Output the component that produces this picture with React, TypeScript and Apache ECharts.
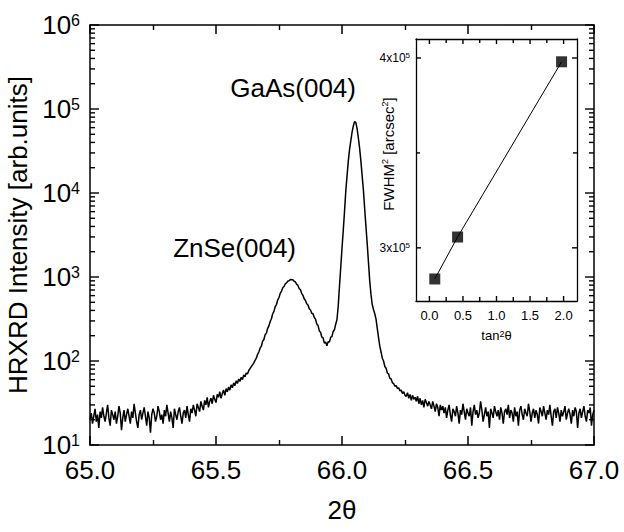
import React, { useEffect, useRef } from "react";
import * as echarts from "echarts";

const FONT = '"Liberation Sans", Arial, Helvetica, sans-serif';

// Main scan: 2θ sampled from X_START in steps of X_STEP
const X_START = 65.0;
const X_STEP = 0.005;

// 65.000 – 65.395
const BG_LEFT = [
  20, 24, 18, 22, 27, 19, 23, 16, 25, 21,
  28, 22, 19, 24, 30, 21, 17, 26, 23, 20,
  25, 18, 22, 29, 24, 15, 21, 26, 19, 23,
  27, 22, 18, 25, 21, 31, 24, 19, 16, 23,
  26, 20, 24, 28, 22, 17, 25, 21, 14, 23,
  27, 24, 19, 22, 29, 25, 20, 23, 18, 26,
  22, 30, 24, 19, 25, 21, 16, 27, 23, 20,
  25, 28, 22, 18, 24, 26, 21, 29, 23, 19,
];
// 65.400 – 65.645
const RISE = [
  27, 24, 30, 26, 22, 31, 28, 25, 33, 29,
  26, 34, 30, 37, 28, 33, 36, 31, 39, 35,
  32, 40, 37, 43, 36, 41, 45, 39, 47, 43,
  49, 45, 52, 48, 55, 51, 58, 54, 61, 57,
  64, 60, 68, 65, 72, 70, 77, 81, 86, 90,
];
// 65.650 – 66.250 (ZnSe and GaAs peaks)
const PEAKS = [
  95, 102, 108, 120, 128, 142, 150, 172, 180, 205,
  215, 245, 262, 295, 318, 365, 390, 445, 470, 535,
  570, 640, 680, 745, 770, 830, 850, 895, 900, 935,
  930, 925, 890, 875, 820, 795, 730, 705, 640, 605,
  550, 525, 480, 465, 420, 405, 370, 365, 330, 315,
  275, 265, 228, 220, 192, 188, 163, 168, 152, 170,
  168, 192, 195, 225, 235, 275, 310, 450, 780, 1300,
  2200, 3600, 6000, 10500, 16000, 24000, 33000, 42000, 53000, 63000,
  71000, 69000, 58000, 45000, 34000, 24000, 16000, 10800, 6500, 4000,
  2500, 1500, 900, 620, 470, 410, 365, 315, 245, 190,
  150, 128, 108, 100, 86, 82, 72, 70, 62, 61,
  55, 54, 50, 51, 47, 48, 44, 45, 41, 43,
  39,
];
// 66.255 – 67.000
const BG_RIGHT = [
  38, 42, 36, 40, 34, 39, 35, 37, 33, 38,
  31, 36, 30, 34, 28, 35, 32, 29, 33, 30,
  27, 33, 29, 25, 31, 28, 22, 30, 26, 29,
  24, 28, 21, 26, 30, 23, 19, 27, 25, 22,
  29, 24, 18, 26, 23, 31, 25, 20, 27, 24,
  22, 28, 17, 25, 30, 23, 26, 21, 24, 33,
  26, 19, 23, 28, 22, 25, 16, 27, 24, 21,
  29, 25, 22, 26, 20, 28, 24, 18, 25, 27,
  23, 30, 21, 26, 24, 19, 28, 22, 25, 17,
  26, 29, 23, 20, 27, 24, 22, 31, 25, 19,
  24, 27, 21, 26, 23, 18, 28, 25, 22, 29,
  24, 20, 26, 23, 30, 22, 17, 25, 27, 21,
  28, 24, 19, 26, 22, 25, 29, 20, 24, 27,
  23, 18, 26, 22, 28, 25, 16, 24, 27, 21,
  25, 29, 22, 19, 26, 24, 28, 17, 23, 26,
];
const INTENSITY = [...BG_LEFT, ...RISE, ...PEAKS, ...BG_RIGHT];

const X_TICKS = [65.0, 65.5, 66.0, 66.5, 67.0];
const Y_DECADES = [10, 100, 1000, 10000, 100000, 1000000];

// Inset
const TAN2 = [0.08, 0.42, 1.97];
const FWHM2 = [283600, 305700, 398000];
const INSET_X_RANGE = [-0.2, 2.2];
const INSET_Y_RANGE = [272000, 410000];
const INSET_X_LABELS = [0, 0.5, 1.0, 1.5, 2.0];
const INSET_X_TICKS = [0, 0.25, 0.5, 0.75, 1.0, 1.25, 1.5, 1.75, 2.0];
const INSET_Y_LABELS = [300000, 400000];
const INSET_Y_TICKS = [300000, 350000, 400000];

const ANNOTATIONS = [
  { text: "GaAs(004)", x: 356, y: 88 },
  { text: "ZnSe(004)", x: 296, y: 248 },
];

const black = "#000";
const txt = { color: black, fontFamily: FONT };

function buildOption() {
  const mainData = INTENSITY.map((v, i) => [+(X_START + i * X_STEP).toFixed(3), v]);
  const insetData = TAN2.map((x, i) => [x, FWHM2[i]]);
  const axisLine = { show: true, onZero: false, lineStyle: { color: black, width: 1.5 } };
  const xMin = X_TICKS[0];
  const xMax = X_TICKS[X_TICKS.length - 1];

  // log-axis ticks: [value, length] — decades long, 2..9 × decade short
  const yTicks: number[][] = [];
  Y_DECADES.forEach((d, i) => {
    yTicks.push([d, 9]);
    if (i < Y_DECADES.length - 1) for (let k = 2; k <= 9; k++) yTicks.push([d * k, 5]);
  });

  const mainX = (pos: "bottom" | "top", labels: boolean) => ({
    gridIndex: 0,
    type: "value",
    min: xMin,
    max: xMax,
    interval: 0.5,
    position: pos,
    axisLine,
    axisTick: { show: true, inside: true, length: 9, lineStyle: { color: black, width: 1.5 } },
    minorTick: { show: true, splitNumber: 2, length: 5, lineStyle: { color: black, width: 1.4 } },
    splitLine: { show: false },
    minorSplitLine: { show: false },
    axisLabel: labels
      ? { show: true, fontSize: 26, margin: 12, ...txt, formatter: (v: number) => v.toFixed(1) }
      : { show: false },
    ...(labels
      ? { name: "2θ", nameLocation: "middle", nameGap: 52, nameTextStyle: { fontSize: 26, ...txt } }
      : {}),
  });

  const mainY = (pos: "left" | "right", labels: boolean) => ({
    gridIndex: 0,
    type: "log",
    logBase: 10,
    min: Y_DECADES[0],
    max: Y_DECADES[Y_DECADES.length - 1],
    splitNumber: 5,
    position: pos,
    axisLine,
    axisTick: { show: false },
    splitLine: { show: false },
    minorTick: { show: false },
    axisLabel: labels
      ? {
          show: true,
          margin: 10,
          formatter: (v: number) => `{b|10}{s|${Math.round(Math.log10(v))}}`,
          rich: {
            b: { fontSize: 26, ...txt },
            s: { fontSize: 16, verticalAlign: "top", ...txt },
          },
        }
      : { show: false },
    ...(labels
      ? {
          name: "HRXRD Intensity [arb.units]",
          nameLocation: "middle",
          nameGap: 54,
          nameTextStyle: { fontSize: 26, ...txt },
        }
      : {}),
  });

  const insetX = (pos: "bottom" | "top", labels: boolean) => ({
    gridIndex: 1,
    type: "value",
    min: INSET_X_RANGE[0],
    max: INSET_X_RANGE[1],
    position: pos,
    axisLine: { show: true, onZero: false, lineStyle: { color: black, width: 1.3 } },
    axisTick: { show: false },
    splitLine: { show: false },
    axisLabel: labels
      ? { show: true, customValues: INSET_X_LABELS, fontSize: 13, margin: 8, ...txt, formatter: (v: number) => v.toFixed(1) }
      : { show: false },
    ...(labels
      ? {
          name: "tan{s|2}θ",
          nameLocation: "middle",
          nameGap: 28,
          nameTextStyle: {
            fontSize: 13,
            ...txt,
            rich: { s: { fontSize: 9, verticalAlign: "top", ...txt } },
          },
        }
      : {}),
  });

  const insetY = (pos: "left" | "right", labels: boolean) => ({
    gridIndex: 1,
    type: "value",
    min: INSET_Y_RANGE[0],
    max: INSET_Y_RANGE[1],
    position: pos,
    axisLine: { show: true, onZero: false, lineStyle: { color: black, width: 1.3 } },
    axisTick: { show: false },
    splitLine: { show: false },
    axisLabel: labels
      ? {
          show: true,
          customValues: INSET_Y_LABELS,
          margin: 6,
          formatter: (v: number) => `{b|${Math.round(v / 100000)}x10}{s|5}`,
          rich: {
            b: { fontSize: 12, ...txt },
            s: { fontSize: 8, verticalAlign: "top", ...txt },
          },
        }
      : { show: false },
  });

  const tickStyle = { stroke: black, lineWidth: 1.4 };

  return {
    animation: false,
    backgroundColor: "#fff",
    textStyle: { fontFamily: FONT },
    grid: [
      { left: 90, top: 25, width: 504, height: 420, show: false, outerBoundsMode: "none", containLabel: false },
      {
        left: 416,
        top: 39,
        width: 161,
        height: 262,
        show: true,
        backgroundColor: "#fff",
        borderWidth: 0,
        outerBoundsMode: "none",
        containLabel: false,
      },
    ],
    xAxis: [mainX("bottom", true), mainX("top", false), insetX("bottom", true), insetX("top", false)],
    yAxis: [mainY("left", true), mainY("right", false), insetY("left", true), insetY("right", false)],
    series: [
      {
        type: "line",
        xAxisIndex: 0,
        yAxisIndex: 0,
        data: mainData,
        symbol: "none",
        showSymbol: false,
        lineStyle: { color: black, width: 1.5 },
        silent: true,
      },
      // log-axis ticks, drawn inward on both sides through the y scale
      {
        type: "custom",
        xAxisIndex: 0,
        yAxisIndex: 0,
        data: yTicks.map(([v, len]) => [xMin, v, len]),
        silent: true,
        clip: false,
        z: 10,
        renderItem: (_p: any, api: any) => {
          const len = api.value(2);
          const p = api.coord([xMin, api.value(1)]);
          const xr = api.coord([xMax, api.value(1)])[0];
          return {
            type: "group",
            children: [
              { type: "line", shape: { x1: p[0], y1: p[1], x2: p[0] + len, y2: p[1] }, style: tickStyle },
              { type: "line", shape: { x1: xr, y1: p[1], x2: xr - len, y2: p[1] }, style: tickStyle },
            ],
          };
        },
      },
      // inset x ticks (bottom and top)
      {
        type: "custom",
        xAxisIndex: 2,
        yAxisIndex: 2,
        data: INSET_X_TICKS.map((v) => [v, INSET_Y_RANGE[0]]),
        silent: true,
        clip: false,
        z: 10,
        renderItem: (_p: any, api: any) => {
          const v = api.value(0);
          const len = INSET_X_LABELS.includes(v) ? 5 : 4;
          const b = api.coord([v, INSET_Y_RANGE[0]]);
          const t = api.coord([v, INSET_Y_RANGE[1]]);
          return {
            type: "group",
            children: [
              { type: "line", shape: { x1: b[0], y1: b[1], x2: b[0], y2: b[1] - len }, style: tickStyle },
              { type: "line", shape: { x1: t[0], y1: t[1], x2: t[0], y2: t[1] + len }, style: tickStyle },
            ],
          };
        },
      },
      // inset y ticks (left and right)
      {
        type: "custom",
        xAxisIndex: 2,
        yAxisIndex: 2,
        data: INSET_Y_TICKS.map((v) => [INSET_X_RANGE[0], v]),
        silent: true,
        clip: false,
        z: 10,
        renderItem: (_p: any, api: any) => {
          const v = api.value(1);
          const len = INSET_Y_LABELS.includes(v) ? 5 : 4;
          const l = api.coord([INSET_X_RANGE[0], v]);
          const r = api.coord([INSET_X_RANGE[1], v]);
          return {
            type: "group",
            children: [
              { type: "line", shape: { x1: l[0], y1: l[1], x2: l[0] + len, y2: l[1] }, style: tickStyle },
              { type: "line", shape: { x1: r[0], y1: r[1], x2: r[0] - len, y2: r[1] }, style: tickStyle },
            ],
          };
        },
      },
      {
        type: "line",
        xAxisIndex: 2,
        yAxisIndex: 2,
        data: insetData,
        symbol: "none",
        showSymbol: false,
        lineStyle: { color: black, width: 1 },
        silent: true,
        z: 3,
      },
      {
        type: "scatter",
        xAxisIndex: 2,
        yAxisIndex: 2,
        data: insetData,
        symbol: "rect",
        symbolSize: 11,
        itemStyle: { color: black },
        silent: true,
        z: 4,
      },
    ],
    graphic: [
      ...ANNOTATIONS.map((a) => ({
        type: "text",
        x: a.x,
        y: a.y,
        style: {
          text: a.text,
          fontSize: 26,
          fontFamily: FONT,
          fill: black,
          align: "right",
          verticalAlign: "middle",
        },
      })),
      {
        type: "text",
        x: 388,
        y: 154,
        rotation: Math.PI / 2,
        z: 100,
        style: {
          text: "FWHM{s|2} [arcsec{s|2}]",
          fontSize: 15,
          fontFamily: FONT,
          fill: black,
          align: "center",
          verticalAlign: "middle",
          rich: { s: { fontSize: 9, verticalAlign: "top", fontFamily: FONT, fill: black } },
        },
      },
    ],
  };
}

export default function App() {
  const ref = useRef<HTMLDivElement>(null);
  useEffect(() => {
    document.body.style.margin = "0";
    const chart = echarts.init(ref.current!, null, { renderer: "svg" });
    chart.setOption(buildOption() as any);
    return () => chart.dispose();
  }, []);
  return (
    <div
      ref={ref}
      style={{ position: "absolute", left: 0, top: 0, width: 624, height: 532, background: "#fff" }}
    />
  );
}
